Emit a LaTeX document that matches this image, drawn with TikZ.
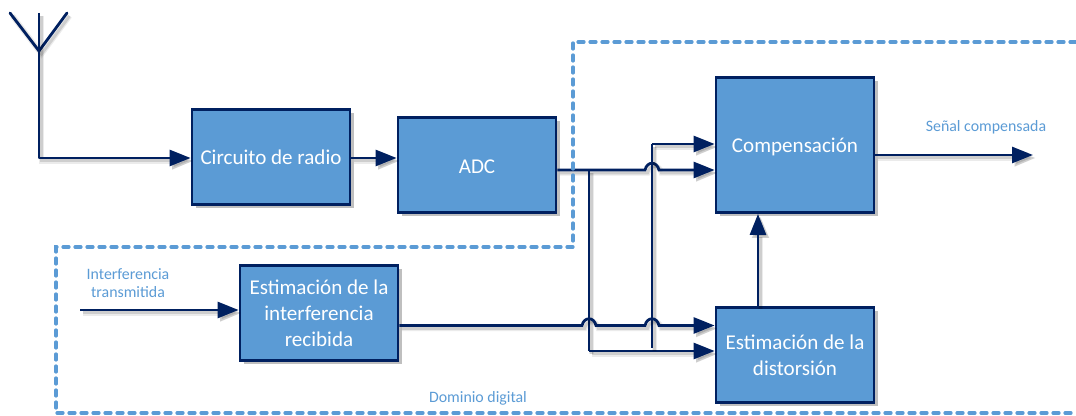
\documentclass[tikz,border=0pt]{standalone}
\usepackage{fontspec}
\setmainfont{Carlito}
\usetikzlibrary{arrows.meta,shadows,calc}
\definecolor{boxblue}{HTML}{5B9BD5}
\definecolor{navy}{HTML}{002060}
\newcommand{\px}{0.75pt}
\tikzset{
  x=0.75pt,y=-0.75pt,
  block/.style={draw=navy,fill=boxblue,line width=2.8*\px,minimum width=158*\px,minimum height=95*\px,
    inner sep=0pt,text=white,align=center,font=\fontsize{15.8pt}{19.5pt}\selectfont,
    general shadow={shadow xshift=3.5*\px,shadow yshift=-3.5*\px,fill=black,opacity=.25}},
  softshadow/.style={
    preaction={draw=black,opacity=.08,line width=5.5*\px,transform canvas={shift={(2.5*\px,-3*\px)}}},
    preaction={draw=black,opacity=.12,line width=3*\px,transform canvas={shift={(2.5*\px,-3*\px)}}}},
  link/.style={draw=navy,line width=2.8*\px,softshadow},
  flow/.style={link,-{Triangle[length=21*\px,width=16*\px]}},
  zone/.style={draw=boxblue,line width=3.2*\px,line cap=round,dash pattern=on 6*\px off 6*\px},
  caption/.style={text=boxblue,align=center,inner sep=0pt,font=\fontsize{11.9pt}{13.5pt}\selectfont},
  hop/.style={to path={-- ($(\tikztotarget)+(-7,0)$) .. controls ($(\tikztotarget)+(-5,-9)$) and ($(\tikztotarget)+(5,-9)$) .. ($(\tikztotarget)+(7,0)$) \tikztonodes}},
}
\begin{document}
\begin{tikzpicture}
\useasboundingbox (0,0) rectangle (1076,416);
% blocks
\node[block] (radio) at (271,157) {Circuito de radio};
\node[block] (adc) at (477,165) {\rule{0pt}{13pt}ADC};
\node[block,minimum height=135*\px] (comp) at (795,145) {\rule{0pt}{14pt}Compensación};
\node[block] (interf) at (319,313) {Estimación de la\\interferencia\\recibida};
\node[block] (dist) at (795,355) {Estimación de la\\distorsión};
% reference points
\coordinate (antL) at (10,13);
\coordinate (antM) at (39,13);
\coordinate (antR) at (67,13);
\coordinate (antB) at (39,51);
\coordinate (antC) at (39,158);
\coordinate (inS) at (80,310);
\coordinate (outE) at (1033,155);
\coordinate (a1) at (589,170);
\coordinate (a2) at (652,170);
\coordinate (b1) at (589,325.5);
\coordinate (b2) at (652,325.5);
\coordinate (c1) at (589,351);
\coordinate (v2b) at (652,348);
\coordinate (v2t) at (652,144);
% connectors
\draw[link,line cap=round] (antL) -- (antB) -- (antR);
\draw[flow,line join=round] (antM) -- (antC) -- (radio.west |- antC);
\draw[flow] (radio.east |- 0,158) -- (adc.west |- 0,158);
\draw[flow] (adc.east |- a1) to[hop] (a2) -- (comp.west |- a2);
\draw[link] (a1) -- (c1);
\draw[flow] (c1) -- (dist.west |- c1);
\draw[link] (v2b) -- (v2t);
\draw[flow] (v2t) -- (comp.west |- v2t);
\draw[flow] (inS) -- (interf.west |- inS);
\draw[flow] (interf.east |- b1) to[hop] (b1) to[hop] (b2) -- (dist.west |- b2);
\draw[flow] (comp.east |- outE) -- (outE);
\draw[flow] (dist.north -| 758,0) -- (comp.south -| 758,0);
% digital domain
\coordinate (z1) at (1076,42);
\coordinate (z2) at (573,42);
\coordinate (z3) at (573,247);
\coordinate (z4) at (56,247);
\coordinate (z5) at (56,413);
\coordinate (z6) at (1076,413);
\draw[zone] (z1) -- (z2) -- (z3) -- (z4) -- (z5) -- (z6);
% captions
\node[caption] (lint) at (128,283.5) {Interferencia\\transmitida};
\node[caption] (ldom) at (478,398) {Dominio digital};
\node[caption] (lsen) at (986,127) {Señal compensada};
\end{tikzpicture}
\end{document}
